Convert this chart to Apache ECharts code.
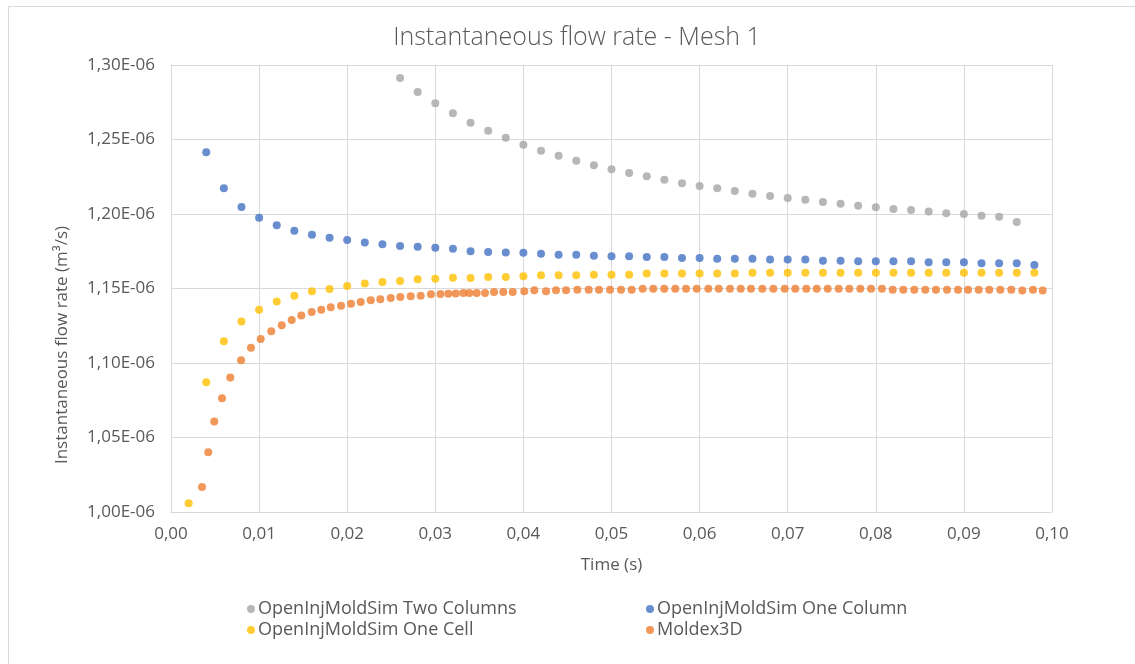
<!DOCTYPE html>
<html>
<head>
<meta charset="utf-8">
<script src="https://cdn.jsdelivr.net/npm/echarts@6/dist/echarts.min.js"></script>
<style>
  html, body { margin: 0; padding: 0; background: #fff; }
  #chart { width: 1135px; height: 664px; }
</style>
</head>
<body>
<div id="chart"></div>
<script>
// Flow rate values are in units of 1E-06 m3/s; time in seconds.
const twoColumnsT = [0.026,0.028,0.030,0.032,0.034,0.036,0.038,0.040,0.042,0.044,0.046,0.048,0.050,0.052,0.054,0.056,0.058,0.060,0.062,0.064,0.066,0.068,0.070,0.072,0.074,0.076,0.078,0.080,0.082,0.084,0.086,0.088,0.090,0.092,0.094,0.096];
const twoColumnsQ = [1.2913,1.2819,1.2743,1.2676,1.2613,1.2559,1.2512,1.2465,1.2425,1.2391,1.2358,1.2327,1.2300,1.2275,1.2253,1.2230,1.2206,1.2188,1.2172,1.2154,1.2136,1.2121,1.2107,1.2096,1.2081,1.2069,1.2056,1.2045,1.2034,1.2027,1.2016,1.2005,1.2000,1.1989,1.1982,1.1946];

const oneColumnT = [0.004,0.006,0.008,0.010,0.012,0.014,0.016,0.018,0.020,0.022,0.024,0.026,0.028,0.030,0.032,0.034,0.036,0.038,0.040,0.042,0.044,0.046,0.048,0.050,0.052,0.054,0.056,0.058,0.060,0.062,0.064,0.066,0.068,0.070,0.072,0.074,0.076,0.078,0.080,0.082,0.084,0.086,0.088,0.090,0.092,0.094,0.096,0.098];
const oneColumnQ = [1.2414,1.2172,1.2047,1.1975,1.1924,1.1888,1.1861,1.1841,1.1826,1.1808,1.1797,1.1785,1.1781,1.1774,1.1766,1.1750,1.1745,1.1741,1.1740,1.1734,1.1727,1.1727,1.1720,1.1716,1.1716,1.1712,1.1712,1.1705,1.1705,1.1700,1.1700,1.1700,1.1694,1.1694,1.1694,1.1687,1.1687,1.1683,1.1683,1.1683,1.1683,1.1676,1.1676,1.1676,1.1669,1.1669,1.1669,1.1658];

const oneCellT = [0.002,0.004,0.006,0.008,0.010,0.012,0.014,0.016,0.018,0.020,0.022,0.024,0.026,0.028,0.030,0.032,0.034,0.036,0.038,0.040,0.042,0.044,0.046,0.048,0.050,0.052,0.054,0.056,0.058,0.060,0.062,0.064,0.066,0.068,0.070,0.072,0.074,0.076,0.078,0.080,0.082,0.084,0.086,0.088,0.090,0.092,0.094,0.096,0.098];
const oneCellQ = [1.0059,1.0871,1.1146,1.1278,1.1358,1.1412,1.1452,1.1481,1.1497,1.1517,1.1533,1.1544,1.1551,1.1562,1.1566,1.1572,1.1571,1.1577,1.1577,1.1582,1.1589,1.1589,1.1589,1.1593,1.1593,1.1593,1.1600,1.1600,1.1600,1.1600,1.1600,1.1600,1.1606,1.1606,1.1606,1.1606,1.1606,1.1606,1.1606,1.1606,1.1606,1.1606,1.1606,1.1606,1.1606,1.1606,1.1606,1.1606,1.1606];

const moldexT = [0.00352,0.00423,0.00491,0.00579,0.00673,0.00795,0.00908,0.01018,0.01138,0.01257,0.01370,0.01479,0.01597,0.01706,0.01813,0.01930,0.02043,0.02153,0.02267,0.02376,0.02494,0.02603,0.02721,0.02834,0.02951,0.03058,0.03148,0.03232,0.03318,0.03386,0.03470,0.03564,0.03666,0.03772,0.03879,0.04010,0.04124,0.04257,0.04370,0.04484,0.04612,0.04741,0.04858,0.04983,0.05108,0.05229,0.05354,0.05474,0.05599,0.05724,0.05846,0.05967,0.06099,0.06217,0.06345,0.06467,0.06583,0.06712,0.06837,0.06966,0.07086,0.07211,0.07329,0.07454,0.07579,0.07699,0.07824,0.07946,0.08070,0.08192,0.08312,0.08437,0.08562,0.08683,0.08808,0.08933,0.09047,0.09168,0.09288,0.09413,0.09538,0.09663,0.09784,0.09894];
const moldexQ = [1.0168,1.0401,1.0607,1.0763,1.0902,1.1018,1.1103,1.1161,1.1213,1.1253,1.1289,1.1318,1.1343,1.1358,1.1374,1.1385,1.1398,1.1410,1.1421,1.1428,1.1436,1.1443,1.1448,1.1452,1.1461,1.1463,1.1464,1.1466,1.1470,1.1470,1.1470,1.1470,1.1477,1.1477,1.1477,1.1481,1.1488,1.1481,1.1488,1.1488,1.1492,1.1492,1.1492,1.1492,1.1492,1.1492,1.1499,1.1499,1.1499,1.1499,1.1499,1.1499,1.1499,1.1499,1.1499,1.1499,1.1499,1.1499,1.1499,1.1499,1.1499,1.1499,1.1499,1.1499,1.1499,1.1499,1.1499,1.1499,1.1499,1.1492,1.1492,1.1492,1.1492,1.1492,1.1492,1.1492,1.1492,1.1492,1.1492,1.1492,1.1492,1.1486,1.1492,1.1486];

const seriesNames = ['OpenInjMoldSim Two Columns','OpenInjMoldSim One Column','OpenInjMoldSim One Cell','Moldex3D'];
const seriesColors = ['#A5A5A5','#4472C4','#FFC000','#ED7D31'];
const yAxisTitle = 'Instantaneous flow rate (m³/s)';

const pairs = (t, q) => t.map((x, i) => [x, q[i]]);
const seriesData = [
  pairs(twoColumnsT, twoColumnsQ),
  pairs(oneColumnT, oneColumnQ),
  pairs(oneCellT, oneCellQ),
  pairs(moldexT, moldexQ)
];

const FONT = '"Open Sans"';
const TEXT = '#595959';
const GRID = '#D9D9D9';
const FS = 17;

const comma = (v, d) => v.toFixed(d).replace('.', ',');

const chart = echarts.init(document.getElementById('chart'), null, { renderer: 'canvas' });
chart.setOption({
  backgroundColor: '#fff',
  animation: false,
  graphic: [
    {
      type: 'rect',
      shape: { x: 8.5, y: 6.5, width: 1200, height: 700 },
      style: { fill: 'none', stroke: '#D9D9D9', lineWidth: 1 },
      silent: true
    },
    {
      // vertical axis title, drawn rotated beside the tick labels
      type: 'text',
      x: 62, y: 345, rotation: Math.PI / 2,
      style: {
        text: yAxisTitle, fontFamily: FONT, fontSize: 17, fill: TEXT,
        align: 'center', verticalAlign: 'middle'
      },
      silent: true
    }
  ],
  title: {
    text: 'Instantaneous flow rate - Mesh 1',
    left: 572, top: 20, textAlign: 'center',
    textStyle: { fontFamily: FONT, fontWeight: 300, fontSize: 25, color: TEXT }
  },
  legend: [
    {
      data: [seriesNames[0], seriesNames[2]],
      orient: 'vertical', left: 242, top: 595, itemGap: 3,
      itemWidth: 8, itemHeight: 8, icon: 'circle',
      textStyle: { fontFamily: FONT, fontSize: 18, color: TEXT, padding: [0, 0, 0, -2] }
    },
    {
      data: [seriesNames[1], seriesNames[3]],
      orient: 'vertical', left: 641, top: 595, itemGap: 3,
      itemWidth: 8, itemHeight: 8, icon: 'circle',
      textStyle: { fontFamily: FONT, fontSize: 18, color: TEXT, padding: [0, 0, 0, -2] }
    }
  ],
  grid: { left: 171, right: 83, top: 65, bottom: 152, containLabel: false },
  xAxis: {
    type: 'value', min: 0, max: 0.1, interval: 0.01,
    name: 'Time (s)', nameLocation: 'middle', nameGap: 45,
    nameTextStyle: { fontFamily: FONT, fontSize: FS, color: TEXT },
    axisLine: { show: true, lineStyle: { color: GRID } },
    axisTick: { show: false },
    axisLabel: { fontFamily: FONT, fontSize: FS, color: TEXT, margin: 14, formatter: v => comma(v, 2) },
    splitLine: { show: true, lineStyle: { color: GRID } }
  },
  yAxis: {
    type: 'value', min: 1.0, max: 1.3, interval: 0.05,
    axisLine: { show: true, lineStyle: { color: GRID } },
    axisTick: { show: false },
    axisLabel: { fontFamily: FONT, fontSize: FS, color: TEXT, margin: 16, formatter: v => comma(v, 2) + 'E-06' },
    splitLine: { show: true, lineStyle: { color: GRID } }
  },
  series: seriesNames.map((name, i) => ({
    name, type: 'scatter', data: seriesData[i],
    symbol: 'circle', symbolSize: 8,
    itemStyle: { color: seriesColors[i] },
    z: 10 - i
  }))
});
</script>
</body>
</html>
